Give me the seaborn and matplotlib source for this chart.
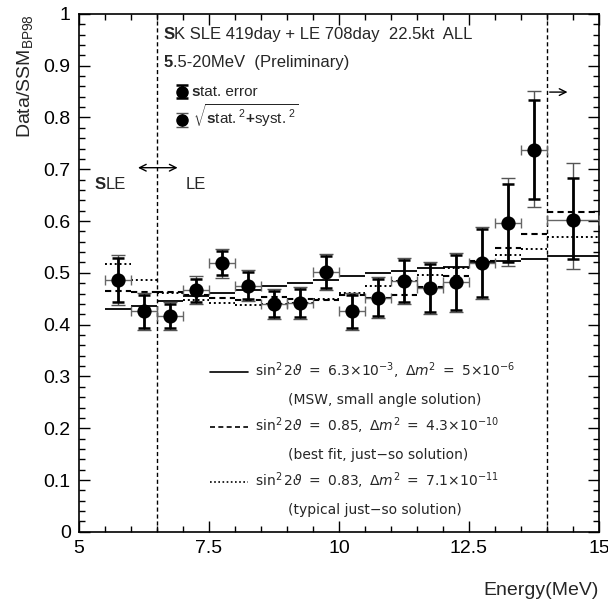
import numpy as np
import pandas as pd
import matplotlib
matplotlib.use("Agg")
import matplotlib.pyplot as plt
import seaborn as sns
from matplotlib.ticker import MultipleLocator

# ---------------- data ----------------
energy = [5.75, 6.25, 6.75, 7.25, 7.75, 8.25, 8.75, 9.25, 9.75, 10.25,
          10.75, 11.25, 11.75, 12.25, 12.75, 13.25, 13.75, 14.5]
bin_lo = [5.5, 6.0, 6.5, 7.0, 7.5, 8.0, 8.5, 9.0, 9.5, 10.0,
          10.5, 11.0, 11.5, 12.0, 12.5, 13.0, 13.5, 14.0]
bin_hi = [6.0, 6.5, 7.0, 7.5, 8.0, 8.5, 9.0, 9.5, 10.0, 10.5,
          11.0, 11.5, 12.0, 12.5, 13.0, 13.5, 14.0, 15.0]
ratio = [0.486, 0.426, 0.417, 0.466, 0.519, 0.475, 0.440, 0.442, 0.502, 0.426,
         0.452, 0.484, 0.471, 0.482, 0.519, 0.597, 0.737, 0.602]
stat_lo = [0.043, 0.032, 0.023, 0.023, 0.024, 0.026, 0.025, 0.027, 0.031, 0.032,
           0.036, 0.040, 0.046, 0.053, 0.065, 0.076, 0.094, 0.075]
stat_hi = [0.043, 0.032, 0.023, 0.023, 0.024, 0.026, 0.025, 0.027, 0.031, 0.032,
           0.036, 0.040, 0.046, 0.053, 0.065, 0.074, 0.097, 0.081]
tot_lo = [0.048, 0.036, 0.027, 0.027, 0.028, 0.030, 0.029, 0.031, 0.035, 0.036,
          0.040, 0.044, 0.050, 0.057, 0.069, 0.083, 0.110, 0.094]
tot_hi = [0.048, 0.036, 0.027, 0.027, 0.028, 0.030, 0.029, 0.031, 0.035, 0.036,
          0.040, 0.044, 0.050, 0.057, 0.069, 0.086, 0.114, 0.110]

msw_small = [0.430, 0.436, 0.446, 0.455, 0.461, 0.467, 0.474, 0.481, 0.486, 0.494,
             0.499, 0.504, 0.510, 0.512, 0.520, 0.522, 0.526, 0.533]
best_fit = [0.465, 0.464, 0.464, 0.458, 0.452, 0.447, 0.454, 0.450, 0.448, 0.458,
            0.452, 0.458, 0.472, 0.494, 0.522, 0.548, 0.575, 0.618]
typical_js = [0.517, 0.486, 0.462, 0.448, 0.441, 0.438, 0.440, 0.442, 0.449, 0.461,
              0.474, 0.484, 0.496, 0.509, 0.520, 0.535, 0.546, 0.570]

boundaries = [6.5, 14.0]

df = pd.DataFrame({"energy": energy, "ratio": ratio})

# ---------------- style ----------------
sns.set_theme(style="ticks")
plt.rcParams["font.family"] = ["Liberation Sans", "DejaVu Sans"]
plt.rcParams["mathtext.fontset"] = "custom"
plt.rcParams["mathtext.rm"] = "Liberation Sans"
plt.rcParams["mathtext.it"] = "Liberation Sans:italic"
plt.rcParams["mathtext.bf"] = "Liberation Sans:bold"

fig = plt.figure(figsize=(6.08, 6.03), dpi=100)
ax = fig.add_axes([0.13, 0.118, 0.855, 0.859])

# model step curves (horizontal segments per bin)
ax.hlines(msw_small, bin_lo, bin_hi, colors="black", linestyles="solid", lw=1.3, zorder=2)
ax.hlines(best_fit, bin_lo, bin_hi, colors="black", linestyles=(0, (3, 2)), lw=1.5, zorder=2)
ax.hlines(typical_js, bin_lo, bin_hi, colors="black", linestyles=(0, (1, 1.5)), lw=1.4, zorder=2)

# error bars
xerr = [np.array(energy) - np.array(bin_lo), np.array(bin_hi) - np.array(energy)]
ax.errorbar(energy, ratio, xerr=xerr, fmt="none", ecolor="#666666", elinewidth=1,
            capsize=3.5, capthick=1, zorder=3)
ax.errorbar(energy, ratio, yerr=[tot_lo, tot_hi], fmt="none", ecolor="#555555",
            elinewidth=1, capsize=5, capthick=1, zorder=3)
ax.errorbar(energy, ratio, yerr=[stat_lo, stat_hi], fmt="none", ecolor="black",
            elinewidth=2, capsize=4.5, capthick=1.8, zorder=4)
sns.scatterplot(data=df, x="energy", y="ratio", ax=ax, color="black", s=105,
                edgecolor="black", linewidth=0, zorder=5, legend=False)

for b in boundaries:
    ax.axvline(b, color="black", ls=(0, (3, 2)), lw=1, zorder=1)

# axes
ax.set_xlim(5, 15)
ax.set_ylim(0, 1)
ax.xaxis.set_minor_locator(MultipleLocator(0.5))
ax.yaxis.set_minor_locator(MultipleLocator(0.02))
ax.set_xticks([5, 7.5, 10, 12.5, 15])
ax.set_xticklabels(["5", "7.5", "10", "12.5", "15"])
ax.set_yticks([0, 0.1, 0.2, 0.3, 0.4, 0.5, 0.6, 0.7, 0.8, 0.9, 1.0])
ax.set_yticklabels(["0", "0.1", "0.2", "0.3", "0.4", "0.5", "0.6", "0.7", "0.8", "0.9", "1"])
ax.tick_params(which="both", direction="in", top=True, right=True, colors="black",
               labelsize=14, width=1)
ax.tick_params(which="major", length=8, pad=6)
ax.tick_params(which="minor", length=4)
for s in ax.spines.values():
    s.set_linewidth(1.2)
    s.set_color("black")
ax.set_xlabel("Energy(MeV)", loc="right", fontsize=14, labelpad=18)
ax.set_ylabel(r"Data/SSM$_{\mathrm{BP98}}$", loc="top", fontsize=14, labelpad=6)


def bold_first(x, y, first, rest, size):
    t = ax.text(x, y, first, fontsize=size, fontweight="bold", va="baseline", ha="left")
    ax.annotate(rest, xy=(1, 0), xycoords=t, va="bottom", ha="left", fontsize=size)
    return t


bold_first(6.62, 0.952, "S", "K SLE 419day + LE 708day  22.5kt  ALL", 12)
bold_first(6.62, 0.897, "5", ".5-20MeV  (Preliminary)", 12)
bold_first(5.3, 0.662, "S", "LE", 12)
ax.text(7.05, 0.662, "LE", fontsize=12, va="baseline", ha="left")
ax.annotate("", xy=(6.08, 0.703), xytext=(6.95, 0.703),
            arrowprops=dict(arrowstyle="<->", lw=1, color="black"))
ax.annotate("", xy=(14.45, 0.849), xytext=(14.0, 0.849),
            arrowprops=dict(arrowstyle="->", lw=1, color="black"))

# legend for error bars
ax.errorbar([6.98], [0.850], yerr=[[0.013], [0.013]], fmt="o", color="black", ms=8,
            elinewidth=2, capsize=4, capthick=1.8, zorder=5)
ax.errorbar([6.98], [0.795], yerr=[[0.014], [0.014]], fmt="o", color="black", ms=8,
            ecolor="#555555", elinewidth=1, capsize=4.5, capthick=1, zorder=5)
bold_first(7.17, 0.842, "s", "tat. error", 11)
ax.text(7.2, 0.787, r"$\sqrt{\mathbf{s}\mathrm{tat.}^{2}\mathbf{+}\mathrm{syst.}^{2}}$",
        fontsize=11, va="baseline", ha="left")

# legend for curves
leg_rows = [0.300, 0.247, 0.194, 0.141, 0.088, 0.035]
styles = ["solid", (0, (3, 2)), (0, (1, 1.5))]
labels = [r"$\sin^2 2\vartheta\ =\ 6.3{\times}10^{-3},\ \Delta m^2\ =\ 5{\times}10^{-6}$",
          r"$\sin^2 2\vartheta\ =\ 0.85,\ \Delta m^2\ =\ 4.3{\times}10^{-10}$",
          r"$\sin^2 2\vartheta\ =\ 0.83,\ \Delta m^2\ =\ 7.1{\times}10^{-11}$"]
notes = ["(MSW, small angle solution)", "(best fit, just\u2212so solution)",
         "(typical just\u2212so solution)"]
for i in range(3):
    yl = leg_rows[2 * i]
    ax.plot([7.52, 8.25], [yl + 0.008, yl + 0.008], color="black", ls=styles[i], lw=1.2)
    ax.text(8.38, yl, labels[i], fontsize=10, math_fontfamily="dejavusans",
            va="baseline", ha="left")
    ax.text(9.02, leg_rows[2 * i + 1], notes[i], fontsize=10,
            family="DejaVu Sans", va="baseline", ha="left")

fig.savefig("out.png", dpi=100)
